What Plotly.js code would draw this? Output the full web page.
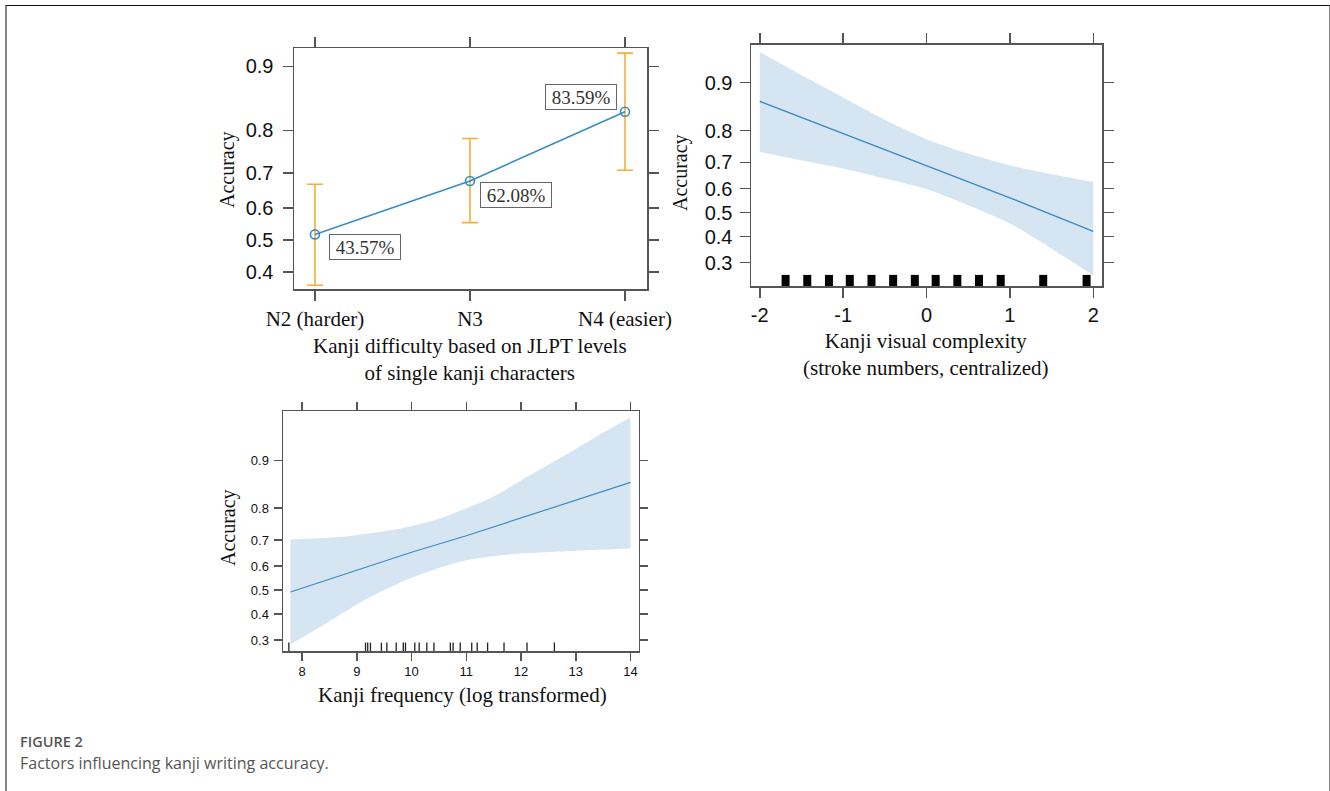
<!DOCTYPE html>
<html>
<head>
<meta charset="utf-8">
<script src="https://cdn.plot.ly/plotly-3.0.1.min.js"></script>
<style>
  html, body { margin: 0; padding: 0; background: #fff; }
  #wrap { position: relative; width: 1330px; height: 791px; overflow: hidden; }
  #chart { position: absolute; left: 0; top: 0; width: 1330px; height: 791px; }
  #frame { position: absolute; left: 5px; top: 5px; width: 1322px; height: 800px;
           border-top: 1.5px solid #111; border-left: 2px solid #888; border-right: 2px solid #888;
           pointer-events: none; }
</style>
</head>
<body>
<div id="wrap">
  <div id="chart"></div>
  <div id="frame"></div>
</div>
<script>
// ---------- Panel 1: JLPT level ----------
const jlptLevels = ['N2 (harder)', 'N3', 'N4 (easier)'];
const jlptFit    = [0.517, 0.678, 0.835];
const jlptUpper  = [0.669, 0.783, 0.914];
const jlptLower  = [0.360, 0.554, 0.707];
const jlptLabels = ['43.57%', '62.08%', '83.59%'];

// ---------- Panel 2: visual complexity ----------
const complexityX    = [-2, -1, 0, 1, 2];
const complexityFit  = [0.868, 0.792, 0.688, 0.562, 0.421];
const complexityBandX = [-2, -1.5, -1, -0.5, 0, 0.5, 1, 1.5, 2];
const complexityUpper = [0.938, 0.911, 0.875, 0.828, 0.776, 0.731, 0.690, 0.657, 0.627];
const complexityLower = [0.737, 0.708, 0.678, 0.640, 0.598, 0.531, 0.454, 0.352, 0.257];
const complexityRug  = [-1.69, -1.43, -1.17, -0.92, -0.66, -0.40, -0.14, 0.11, 0.37, 0.63, 0.89, 1.40, 1.92];

// ---------- Panel 3: frequency ----------
const frequencyX   = [7.79, 9, 10, 11, 12, 13, 14];
const frequencyFit = [0.492, 0.582, 0.655, 0.715, 0.772, 0.820, 0.861];
const frequencyBandX = [7.79, 8.5, 9, 9.5, 10, 10.5, 11, 11.5, 12, 12.5, 13, 13.5, 14];
const frequencyUpper = [0.702, 0.708, 0.717, 0.730, 0.747, 0.770, 0.800, 0.830, 0.865, 0.893, 0.916, 0.935, 0.949];
const frequencyLower = [0.285, 0.370, 0.439, 0.500, 0.552, 0.593, 0.624, 0.640, 0.650, 0.656, 0.661, 0.665, 0.669];
const frequencyRug = [7.76, 9.16, 9.20, 9.25, 9.45, 9.55, 9.72, 9.85, 9.89, 10.06, 10.14, 10.28, 10.41,
                      10.71, 10.76, 10.89, 11.10, 11.20, 11.39, 11.69, 12.11, 12.61];

// ---------- Axis tick labels ----------
const probTicks1 = [0.4, 0.5, 0.6, 0.7, 0.8, 0.9];
const probTicks  = [0.3, 0.4, 0.5, 0.6, 0.7, 0.8, 0.9];
const complexityTicks = [-2, -1, 0, 1, 2];
const frequencyTicks = [8, 9, 10, 11, 12, 13, 14];

const logit = p => Math.log(p / (1 - p));
const L = arr => arr.map(logit);

const W = 1330, H = 791;
const px = v => v / W;
const py = v => 1 - v / H;

const BLUE = '#3a8cc4';
const BAND = '#d5e5f2';
const ORANGE = '#f0b136';
const AX = '#555';
const SERIF = 'Liberation Serif, Times New Roman, serif';
const SANS = 'Liberation Sans, Arial, sans-serif';

const traces = [];

// Panel 1
traces.push({
  x: jlptLevels, y: L(jlptFit), xaxis: 'x', yaxis: 'y',
  type: 'scatter', mode: 'lines+markers',
  line: { color: BLUE, width: 1.6 },
  marker: { symbol: 'circle-open', size: 9, color: BLUE, line: { width: 1.6, color: BLUE } },
  error_y: {
    type: 'data', symmetric: false,
    array: jlptUpper.map((u, i) => logit(u) - logit(jlptFit[i])),
    arrayminus: jlptLower.map((l, i) => logit(jlptFit[i]) - logit(l)),
    color: ORANGE, thickness: 1.6, width: 8
  },
  hoverinfo: 'skip'
});

function band(xs, lo, hi, xa, ya) {
  traces.push({
    x: xs, y: L(lo), xaxis: xa, yaxis: ya, type: 'scatter', mode: 'lines',
    line: { width: 0, color: BAND, shape: 'spline', smoothing: 0.8 }, hoverinfo: 'skip'
  });
  traces.push({
    x: xs, y: L(hi), xaxis: xa, yaxis: ya, type: 'scatter', mode: 'lines',
    fill: 'tonexty', fillcolor: BAND,
    line: { width: 0, color: BAND, shape: 'spline', smoothing: 0.8 }, hoverinfo: 'skip'
  });
}

// Panel 2 band + line
band(complexityBandX, complexityLower, complexityUpper, 'x2', 'y2');
traces.push({
  x: complexityX, y: L(complexityFit), xaxis: 'x2', yaxis: 'y2',
  type: 'scatter', mode: 'lines', line: { color: BLUE, width: 1.4 }, hoverinfo: 'skip'
});

// Panel 3 band + line
band(frequencyBandX, frequencyLower, frequencyUpper, 'x3', 'y3');
traces.push({
  x: frequencyX, y: L(frequencyFit), xaxis: 'x3', yaxis: 'y3',
  type: 'scatter', mode: 'lines', line: { color: BLUE, width: 1.2 }, hoverinfo: 'skip'
});

function axis(domain, anchor, extra) {
  return Object.assign({
    domain: domain, anchor: anchor,
    showline: true, linecolor: AX, linewidth: 1.5, mirror: 'allticks',
    ticks: 'outside', ticklen: 10, tickwidth: 1.5, tickcolor: AX,
    showgrid: false, zeroline: false, fixedrange: true
  }, extra);
}

const layout = {
  width: W, height: H,
  margin: { l: 0, r: 0, t: 0, b: 0 },
  paper_bgcolor: '#fff', plot_bgcolor: 'rgba(0,0,0,0)',
  showlegend: false,
  font: { family: SANS, color: '#111' },

  xaxis: axis([px(294), px(647)], 'y', {
    type: 'category', range: [-0.135, 2.142],
    tickfont: { family: SERIF, size: 21, color: '#111' }
  }),
  yaxis: axis([py(289), py(48)], 'x', {
    range: [logit(0.349), logit(0.919)],
    tickvals: L(probTicks1), ticktext: probTicks1.map(String),
    tickfont: { family: SANS, size: 20, color: '#111' }, ticklabelstandoff: 5
  }),

  xaxis2: axis([px(751), px(1102)], 'y2', {
    range: [-2.105, 2.105],
    tickvals: complexityTicks, ticktext: complexityTicks.map(String),
    tickfont: { family: SANS, size: 20, color: '#111' }
  }),
  yaxis2: axis([py(286), py(44.5)], 'x2', {
    range: [logit(0.224), logit(0.945)],
    tickvals: L(probTicks), ticktext: probTicks.map(String),
    tickfont: { family: SANS, size: 20, color: '#111' }, ticklabelstandoff: 3
  }),

  xaxis3: axis([px(283), px(638.5)], 'y3', {
    range: [7.653, 14.146], ticklen: 8,
    tickvals: frequencyTicks, ticktext: frequencyTicks.map(String),
    tickfont: { family: SANS, size: 13, color: '#111' }
  }),
  yaxis3: axis([py(651), py(411)], 'x3', {
    range: [logit(0.263), logit(0.954)], ticklen: 8,
    tickvals: L(probTicks), ticktext: probTicks.map(String),
    tickfont: { family: SANS, size: 13, color: '#111' }, ticklabelstandoff: 2
  }),

  shapes: [],
  annotations: []
};

// Rug marks
complexityRug.forEach(v => layout.shapes.push({
  type: 'line', xref: 'x2', yref: 'y2 domain', x0: v, x1: v, y0: 0, y1: 0.046,
  line: { color: '#000', width: 8 }
}));
frequencyRug.forEach(v => layout.shapes.push({
  type: 'line', xref: 'x3', yref: 'y3 domain', x0: v, x1: v, y0: 0, y1: 0.035,
  line: { color: '#222', width: 1.3 }
}));

// Value labels (panel 1)
const labelShift = [[50, -13], [46, -14], [-44, 15]];
jlptLabels.forEach((t, i) => layout.annotations.push({
  xref: 'x', yref: 'y', x: jlptLevels[i], y: logit(jlptFit[i]),
  xshift: labelShift[i][0], yshift: labelShift[i][1],
  text: t, showarrow: false, xanchor: 'center', yanchor: 'middle',
  width: 64, height: 18,
  font: { family: SERIF, size: 19, color: '#333' },
  bgcolor: '#fff', bordercolor: '#666', borderwidth: 1, borderpad: 3
}));

function paperText(text, x, y, opts) {
  layout.annotations.push(Object.assign({
    xref: 'paper', yref: 'paper', x: px(x), y: py(y), text: text, showarrow: false,
    xanchor: 'center', yanchor: 'middle'
  }, opts));
}

// Axis titles
const titleFont = { family: SERIF, size: 21, color: '#111' };
const yTitleFont = { family: SERIF, size: 20, color: '#111' };
paperText('Accuracy', 227, 170, { textangle: -90, font: yTitleFont });
paperText('Kanji difficulty based on JLPT levels<br>of single kanji characters', 470, 359, { font: titleFont });
paperText('Accuracy', 680, 173, { textangle: -90, font: yTitleFont });
paperText('Kanji visual complexity<br>(stroke numbers, centralized)', 925, 354, { font: titleFont });
paperText('Accuracy', 228, 528, { textangle: -90, font: yTitleFont });
paperText('Kanji frequency (log transformed)', 462, 695, { font: titleFont });

// Caption
paperText('FIGURE 2', 18, 741, { xanchor: 'left', font: { family: 'Open Sans, sans-serif', size: 14.5, color: '#555', weight: 600 } });
paperText('Factors influencing kanji writing accuracy.', 18, 763, { xanchor: 'left', font: { family: 'Open Sans, sans-serif', size: 16, color: '#555' } });

Plotly.newPlot('chart', traces, layout, { staticPlot: true, displayModeBar: false });
</script>
</body>
</html>
